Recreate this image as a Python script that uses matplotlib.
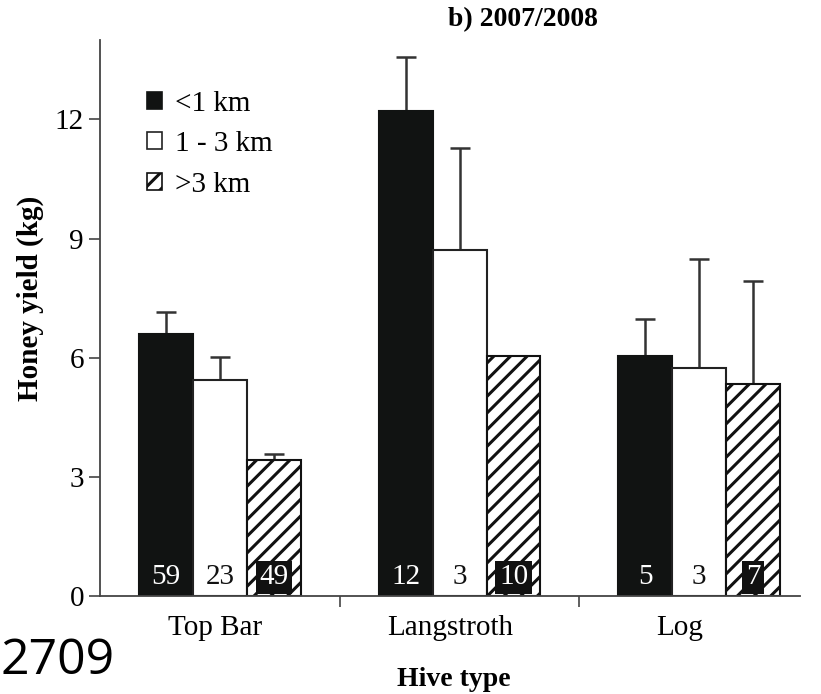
import matplotlib.pyplot as plt
import numpy as np
from matplotlib.patches import Patch

plt.rcParams["font.family"] = ["Liberation Serif", "DejaVu Serif"]
plt.rcParams["hatch.linewidth"] = 2.2

hive_types = ["Top Bar", "Langstroth", "Log"]
distances = ["<1 km", "1 - 3 km", ">3 km"]

# mean honey yield (kg) per distance class, one list per hive type order
yield_near = [6.6, 12.2, 6.05]
yield_mid = [5.45, 8.72, 5.73]
yield_far = [3.42, 6.05, 5.33]

# upper error (kg)
err_near = [0.55, 1.37, 0.93]
err_mid = [0.58, 2.56, 2.76]
err_far = [0.15, 0.0, 2.61]

# number of hives
n_near = [59, 12, 5]
n_mid = [23, 3, 3]
n_far = [49, 10, 7]

fig = plt.figure(figsize=(8.21, 6.94), dpi=100)
ax = fig.add_axes([0.1218, 0.1412, 0.8526, 0.8012])

x = np.arange(len(hive_types))
w = 0.225
series = [
    (yield_near, err_near, n_near, dict(color="#111312", edgecolor="#111312")),
    (yield_mid, err_mid, n_mid, dict(color="white", edgecolor="#222222")),
    (yield_far, err_far, n_far, dict(color="white", edgecolor="#111111", hatch="//")),
]

for i, (vals, errs, ns, style) in enumerate(series):
    pos = x + (i - 1) * w
    ax.bar(pos, vals, w, linewidth=1.5, zorder=2, **style)
    errs = np.array(errs)
    has_err = errs > 0
    ax.errorbar(pos[has_err], np.array(vals)[has_err],
                yerr=[np.zeros(has_err.sum()), errs[has_err]],
                fmt="none", ecolor="#333333", elinewidth=1.8,
                capsize=7, capthick=1.8, zorder=1)
    for p, n in zip(pos, ns):
        if i == 0:
            ax.text(p, 0.15, str(n), ha="center", va="bottom", fontsize=21,
                    color="white", zorder=3)
        elif i == 1:
            ax.text(p, 0.15, str(n), ha="center", va="bottom", fontsize=21,
                    color="#111111", zorder=3)
        else:
            ax.text(p, 0.15, str(n), ha="center", va="bottom", fontsize=21,
                    color="white", zorder=3,
                    bbox=dict(boxstyle="square,pad=0.12", fc="#111111", ec="none"))

ax.set_xlim(-0.5, 2.42)
ax.set_ylim(0, 14)
ax.set_yticks([0, 3, 6, 9, 12])
ax.set_xticks(x - np.array([0.02, 0.04, 0.08]))
ax.set_xticklabels(hive_types)
ax.set_xticks([0.5, 1.5], minor=True)
ax.tick_params(axis="x", which="major", length=0, labelsize=21, pad=14)
ax.tick_params(axis="x", which="minor", length=8, width=1.2, direction="out",
               color="#444444")
ax.tick_params(axis="y", length=8, width=1.2, labelsize=21, color="#444444")

for side in ["top", "right"]:
    ax.spines[side].set_visible(False)
for side in ["left", "bottom"]:
    ax.spines[side].set_color("#444444")
    ax.spines[side].set_linewidth(1.3)

ax.set_ylabel("Honey yield (kg)", fontsize=21, fontweight="bold")
ax.yaxis.set_label_coords(-0.08, 0.535)
ax.set_xlabel("Hive type", fontsize=20, fontweight="bold")
ax.xaxis.set_label_coords(0.505, -0.127)
ax.set_title("b) 2007/2008", fontsize=20, fontweight="bold", x=0.604, y=1.0, pad=10)

handles = [
    Patch(facecolor="#111312", edgecolor="#111312", linewidth=1.2),
    Patch(facecolor="white", edgecolor="#222222", linewidth=1.2),
    Patch(facecolor="white", edgecolor="#111111", hatch="//", linewidth=1.2),
]
ax.legend(handles, distances, loc="upper left", bbox_to_anchor=(0.051, 0.93),
          frameon=False, fontsize=21, handlelength=0.5, handleheight=0.5,
          handletextpad=0.45, labelspacing=0.5, borderaxespad=0)

fig.text(0.001, 0.012, "2709", fontsize=36, family=["Open Sans", "DejaVu Sans"],
         ha="left", va="bottom")

fig.savefig("out.png", dpi=100)
